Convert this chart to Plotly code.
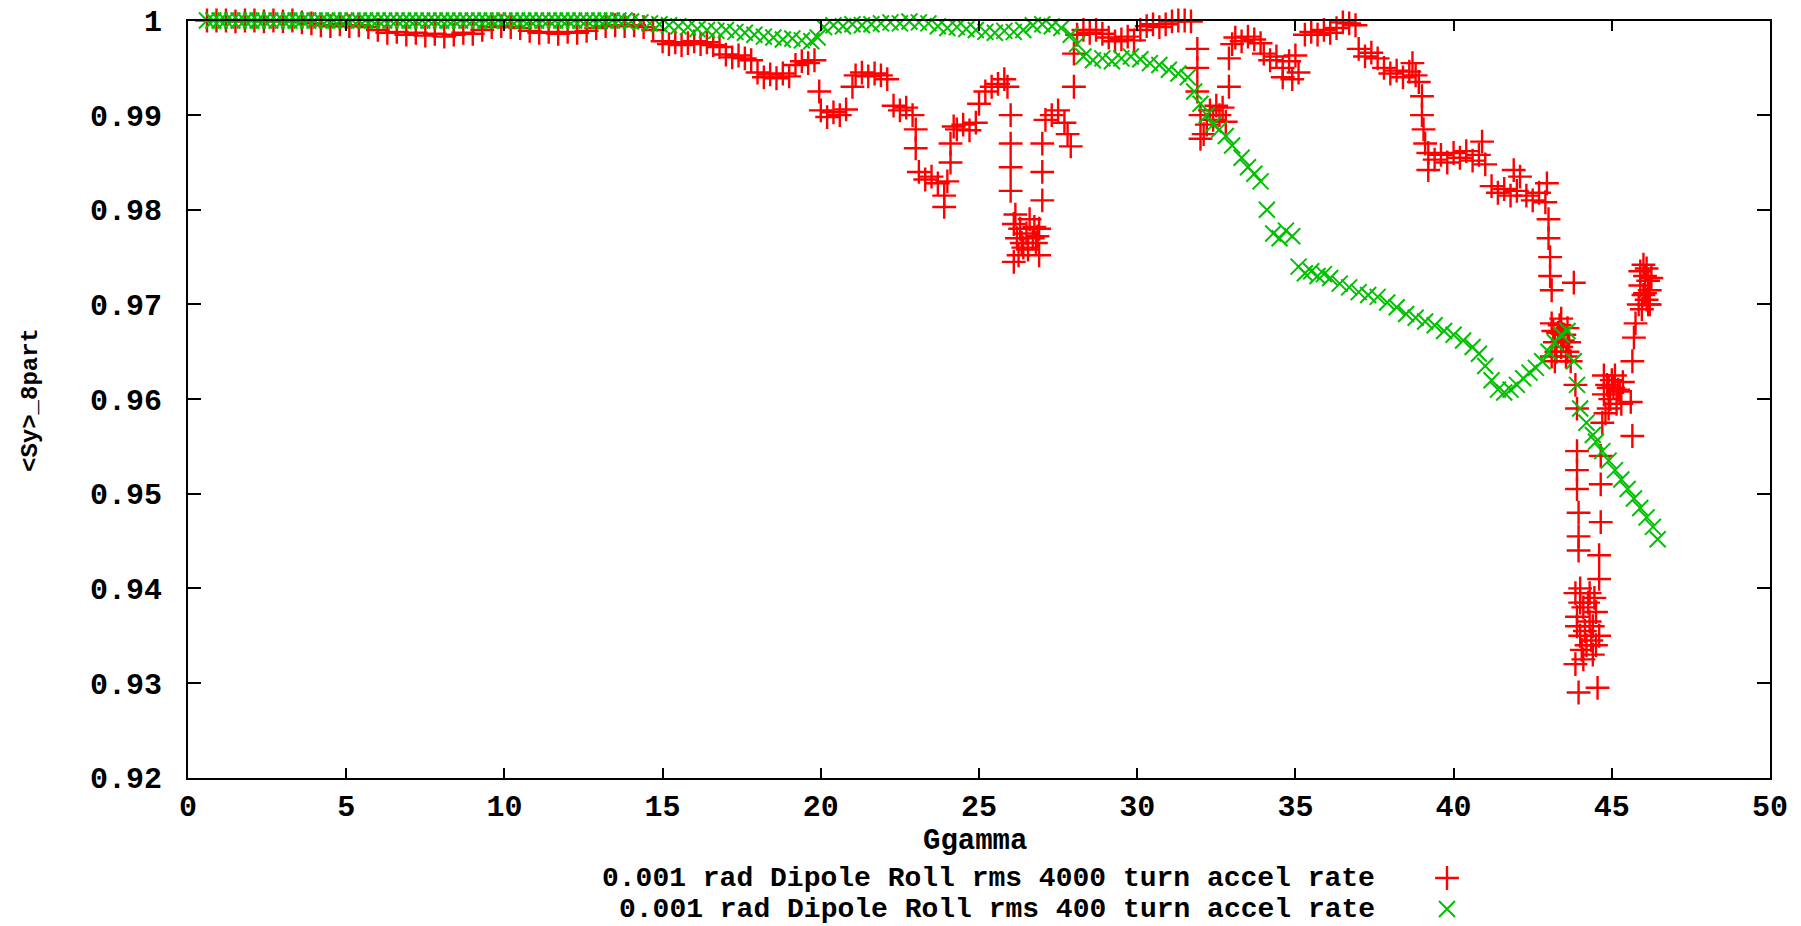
import plotly.graph_objects as go

# ---------------- data ----------------
# series 1: 0.001 rad Dipole Roll rms 4000 turn accel rate  (red '+')
red_gg = [
    0.6, 0.9, 1.2, 1.5, 1.8, 2.1, 2.4, 2.7, 3.0, 3.3, 3.6, 3.9,
    4.2, 4.5, 4.8, 5.1, 5.4, 5.7,
    6.0, 6.3, 6.6, 6.9, 7.2, 7.5, 7.8, 8.1, 8.4, 8.7, 9.0, 9.3,
    9.6, 9.9, 10.2, 10.5,
    10.8, 11.1, 11.4, 11.7, 12.0, 12.3, 12.6,
    12.9, 13.2, 13.5, 13.8, 14.1, 14.4, 14.7,
    15.0, 15.2, 15.4, 15.6, 15.8, 16.0, 16.2, 16.4, 16.6, 16.8,
    17.0, 17.2, 17.4, 17.6, 17.8,
    18.0, 18.2, 18.4, 18.6, 18.8, 19.0,
    19.2, 19.4, 19.6, 19.8,
    19.95, 20.0, 20.2, 20.4, 20.6, 20.8,
    21.0, 21.1, 21.3, 21.5, 21.7, 21.9, 22.1,
    22.3, 22.5, 22.7, 22.9, 23.0, 23.0,
    23.1, 23.3, 23.5, 23.7, 23.9, 23.9, 24.0, 24.1, 24.1, 24.2,
    24.3, 24.5, 24.7, 24.9,
    25.0, 25.2, 25.4, 25.6, 25.8, 25.9,
    26.0, 26.0, 26.0, 26.0,
    26.1, 26.2, 26.3, 26.4, 26.5, 26.6, 26.7, 26.8, 26.9, 26.1, 26.9,
    26.15, 26.35, 26.55, 26.75, 26.85, 26.25,
    27.0, 27.0, 27.0,
    27.1, 27.3, 27.5, 27.7, 27.8, 27.9,
    28.0, 28.0,
    28.1, 28.3, 28.5, 28.7, 28.9,
    29.1, 29.3, 29.5, 29.7, 29.9,
    30.1, 30.3, 30.5, 30.7, 30.9,
    31.1, 31.3, 31.5, 31.7,
    31.9, 31.9, 31.9, 32.0, 32.0,
    32.1, 32.2, 32.3, 32.4, 32.5, 32.6, 32.7, 32.8,
    32.9, 32.9, 33.0,
    33.1, 33.3, 33.5, 33.7, 33.9,
    34.0, 34.2, 34.4, 34.6, 34.8, 35.0, 35.1, 34.6, 34.9,
    35.3, 35.5, 35.7, 35.9, 36.1, 36.3,
    36.5, 36.7, 36.9,
    37.0, 37.2, 37.4, 37.6,
    37.8, 38.0, 38.2, 38.4, 38.6, 38.7, 38.8, 38.9,
    39.0, 39.0, 39.05, 39.1,
    39.2, 39.4, 39.6, 39.8, 40.0, 40.2, 40.4, 39.2,
    40.6, 40.8, 40.9, 41.0,
    41.2, 41.4, 41.6, 41.8, 41.9, 42.0, 42.1,
    42.3, 42.5, 42.7, 42.9, 42.95,
    43.0, 43.0, 43.05, 43.05, 43.1,
    43.1, 43.2, 43.3, 43.4, 43.5, 43.6, 43.6, 43.2, 43.4, 43.7, 43.1,
    43.15, 43.25, 43.35, 43.45, 43.55, 43.65,
    43.8,
    43.85, 43.9, 43.9, 43.9, 43.9, 43.95, 43.95, 43.95,
    43.85, 43.9, 44.0, 44.1, 44.2, 44.3, 44.4, 44.5, 44.6, 43.85, 44.0, 44.3, 44.4, 44.1, 43.95, 44.55,
    43.9, 44.0, 44.05, 44.15, 44.25, 44.35, 44.45, 44.5,
    44.6, 44.6, 44.65, 44.65, 44.65, 44.7,
    44.75, 44.85, 44.95, 45.05, 45.15, 45.25, 45.35, 44.8, 45.1, 44.9,
    45.0, 45.2, 45.3, 44.75, 44.9,
    45.65, 45.6, 45.65, 45.7, 45.75,
    45.85, 45.9, 46.0, 46.05, 46.1, 46.15, 46.2, 46.0, 46.1, 46.2,
    45.95, 46.05, 46.15, 46.25, 45.9,
]
red_sy = [
    1.0, 1.0, 1.0, 0.9999, 1.0, 1.0, 0.9999, 1.0, 0.9999, 1.0, 0.9998, 0.9997,
    0.9995, 0.9994, 0.9996, 0.9994, 0.9995, 0.9993,
    0.9990, 0.9987, 0.9988, 0.9985, 0.9987, 0.9984, 0.9986, 0.9983, 0.9985, 0.9987, 0.9986, 0.9990,
    0.9993, 0.9994, 0.9993, 0.9992,
    0.9989, 0.9987, 0.9988, 0.9986, 0.9988, 0.9987, 0.9989,
    0.9992, 0.9994, 0.9995, 0.9994, 0.9995, 0.9993, 0.9990,
    0.9978, 0.9975, 0.9977, 0.9974, 0.9976, 0.9978, 0.9975, 0.9977, 0.9974, 0.9972,
    0.9964, 0.9961, 0.9963, 0.9960, 0.9958,
    0.9945, 0.9940, 0.9943, 0.9939, 0.9944, 0.9941,
    0.9953, 0.9957, 0.9955, 0.9958,
    0.9925, 0.9905, 0.9898, 0.9903, 0.9900, 0.9906,
    0.9930, 0.9942, 0.9945, 0.9941, 0.9944, 0.9942, 0.9938,
    0.9910, 0.9905, 0.9908, 0.9900, 0.9885, 0.9865,
    0.9840, 0.9832, 0.9835, 0.9828, 0.9815, 0.9803, 0.9830, 0.9850, 0.9870, 0.9888,
    0.9885, 0.9890, 0.9884, 0.9892,
    0.9912, 0.9925, 0.9930, 0.9933, 0.9938, 0.9930,
    0.9900, 0.9870, 0.9845, 0.9820,
    0.9785, 0.9770, 0.9780, 0.9760, 0.9775, 0.9790, 0.9770, 0.9765, 0.9780, 0.9745, 0.9752,
    0.9795, 0.9765, 0.9758, 0.9782, 0.9772, 0.9752,
    0.9810, 0.9840, 0.9870,
    0.9895, 0.9900, 0.9905, 0.9892, 0.9880, 0.9867,
    0.9930, 0.9965,
    0.9985, 0.9990, 0.9987, 0.9990, 0.9986,
    0.9982, 0.9978, 0.9980, 0.9983, 0.9979,
    0.9990, 0.9994, 0.9996, 0.9993, 0.9996,
    0.9999, 1.0, 1.0, 0.9999,
    0.9970, 0.9950, 0.9925, 0.9900, 0.9875,
    0.9880, 0.9890, 0.9905, 0.9895, 0.9910, 0.9900, 0.9908, 0.9893,
    0.9930, 0.9960, 0.9975,
    0.9982, 0.9978, 0.9983, 0.9980, 0.9976,
    0.9965, 0.9958, 0.9962, 0.9950, 0.9957, 0.9963, 0.9945, 0.9940, 0.9938,
    0.9985, 0.9988, 0.9985, 0.9990, 0.9987, 0.9992,
    0.9998, 0.9997, 0.9995,
    0.9970, 0.9962, 0.9966, 0.9960,
    0.9950, 0.9944, 0.9947, 0.9940, 0.9946, 0.9955, 0.9942, 0.9935,
    0.9920, 0.9900, 0.9885, 0.9870,
    0.9860, 0.9853, 0.9858, 0.9850, 0.9860, 0.9855, 0.9862, 0.9842,
    0.9852, 0.9858, 0.9872, 0.9848,
    0.9825, 0.9818, 0.9822, 0.9815, 0.9842, 0.9820, 0.9835,
    0.9815, 0.9810, 0.9818, 0.9808, 0.9828,
    0.9790, 0.9770, 0.9750, 0.9730, 0.9715,
    0.9680, 0.9660, 0.9670, 0.9655, 0.9668, 0.9650, 0.9675, 0.9640, 0.9685, 0.9640, 0.9645,
    0.9672, 0.9650, 0.9678, 0.9662, 0.9645, 0.9660,
    0.9723,
    0.9615, 0.9590, 0.9545, 0.9525, 0.9505, 0.9480, 0.9455, 0.9440,
    0.9395, 0.9370, 0.9350, 0.9380, 0.9340, 0.9365, 0.9330, 0.9375, 0.9350, 0.9320, 0.9400, 0.9395, 0.9360, 0.9325, 0.9290, 0.9295,
    0.9360, 0.9385, 0.9335, 0.9355, 0.9385, 0.9345, 0.9390, 0.9340,
    0.9410, 0.9435, 0.9470, 0.9510, 0.9540, 0.9575,
    0.9605, 0.9615, 0.9600, 0.9612, 0.9595, 0.9608, 0.9618, 0.9585, 0.9625, 0.9590,
    0.9620, 0.9610, 0.9595, 0.9625, 0.9612,
    0.9561, 0.9597, 0.9640, 0.9665, 0.9680,
    0.9700, 0.9720, 0.9710, 0.9730, 0.9705, 0.9725, 0.9715, 0.9742, 0.9738, 0.9700,
    0.9695, 0.9712, 0.9700, 0.9728, 0.9735,
]

# series 2: 0.001 rad Dipole Roll rms 400 turn accel rate  (green 'x')
green_gg = [
    0.6, 0.8, 1.0, 1.2, 1.4, 1.6, 1.8, 2.0, 2.2, 2.4, 2.6, 2.8, 3.0, 3.2, 3.4,
    3.6, 3.8, 4.0, 4.2, 4.4, 4.6, 4.8, 5.0, 5.2, 5.4, 5.6, 5.8, 6.0, 6.2, 6.4,
    6.6, 6.8, 7.0, 7.2, 7.4, 7.6, 7.8, 8.0, 8.2, 8.4, 8.6, 8.8, 9.0, 9.2, 9.4,
    9.6, 9.8, 10.0, 10.2, 10.4, 10.6, 10.8, 11.0, 11.2, 11.4, 11.6, 11.8, 12.0,
    12.2, 12.4, 12.6, 12.8, 13.0, 13.2, 13.4, 13.6, 13.8,
    14.0, 14.3, 14.6, 14.9, 15.2, 15.5, 15.8,
    16.1, 16.4, 16.7, 17.0, 17.3, 17.6, 17.9,
    18.2, 18.5, 18.8, 19.1, 19.4, 19.7, 19.9,
    20.1, 20.4, 20.7, 21.0, 21.3, 21.6,
    21.9, 22.2, 22.5, 22.8, 23.1, 23.4,
    23.7, 24.0, 24.3, 24.6, 24.9,
    25.2, 25.5, 25.8, 26.1, 26.4,
    26.7, 27.0, 27.3, 27.6,
    27.9, 28.1,
    28.3, 28.6, 28.9, 29.2, 29.5,
    29.8, 30.1, 30.4, 30.7,
    31.0, 31.3, 31.6,
    31.8, 32.0, 32.2,
    32.4, 32.6, 32.8, 33.0,
    33.3, 33.5, 33.7, 33.9,
    34.1, 34.3, 34.5, 34.7, 34.9,
    35.1, 35.3, 35.5, 35.7, 35.9, 36.1,
    36.4, 36.7, 37.0, 37.3, 37.6,
    37.9, 38.2, 38.5, 38.8, 39.1, 39.4,
    39.7, 40.0, 40.3, 40.6,
    40.8, 41.0, 41.2, 41.4,
    41.6, 41.8, 42.0,
    42.2, 42.4, 42.6, 42.8,
    43.0, 43.2, 43.4, 43.6,
    43.8, 43.9, 44.0,
    44.2, 44.4, 44.5,
    44.7, 44.9, 45.1, 45.3,
    45.5, 45.7, 45.9, 46.1, 46.3, 46.45,
]
green_sy = [
    1.0, 1.0, 1.0, 1.0, 1.0, 1.0, 1.0, 1.0, 1.0, 1.0, 1.0, 1.0, 1.0, 1.0, 1.0,
    1.0, 1.0, 1.0, 1.0, 1.0, 1.0, 1.0, 1.0, 1.0, 1.0, 1.0, 1.0, 1.0, 1.0, 1.0,
    1.0, 1.0, 1.0, 1.0, 1.0, 1.0, 1.0, 1.0, 1.0, 1.0, 1.0, 1.0, 1.0, 1.0, 1.0,
    1.0, 1.0, 1.0, 1.0, 1.0, 1.0, 1.0, 1.0, 1.0, 1.0, 1.0, 1.0, 1.0,
    1.0, 1.0, 1.0, 1.0, 1.0, 1.0, 1.0, 1.0, 1.0,
    0.9999, 0.9998, 0.9997, 0.9996, 0.9995, 0.9994, 0.9993,
    0.9991, 0.9990, 0.9989, 0.9990, 0.9988, 0.9987, 0.9985,
    0.9983, 0.9982, 0.9980, 0.9981, 0.9979, 0.9978, 0.9982,
    0.9993, 0.9995, 0.9994, 0.9996, 0.9995, 0.9996,
    0.9997, 0.9998, 0.9997, 0.9999, 0.9998, 0.9997,
    0.9994, 0.9992, 0.9993, 0.9991, 0.9990,
    0.9988, 0.9987, 0.9989, 0.9988, 0.9990,
    0.9995, 0.9996, 0.9994, 0.9992,
    0.9985, 0.9975,
    0.9962, 0.9958, 0.9960, 0.9957, 0.9960,
    0.9962, 0.9959, 0.9955, 0.9953,
    0.9948, 0.9944, 0.9940,
    0.9925, 0.9912, 0.9900,
    0.9890, 0.9885, 0.9878, 0.9868,
    0.9855, 0.9845, 0.9838, 0.9830,
    0.9800, 0.9775, 0.9770, 0.9778, 0.9772,
    0.9740, 0.9733, 0.9735, 0.9730, 0.9732, 0.9728,
    0.9722, 0.9718, 0.9713, 0.9710, 0.9708,
    0.9702, 0.9697, 0.9690, 0.9686, 0.9682, 0.9678,
    0.9672, 0.9668, 0.9662, 0.9655,
    0.9648, 0.9635, 0.9620, 0.9610,
    0.9607, 0.9610, 0.9615,
    0.9622, 0.9628, 0.9633, 0.9640,
    0.9650, 0.9660, 0.9668, 0.9672,
    0.9640, 0.9615, 0.9590,
    0.9575, 0.9562, 0.9555,
    0.9545, 0.9535, 0.9525, 0.9515,
    0.9505, 0.9495, 0.9485, 0.9475, 0.9465, 0.9452,
]

x_tick_vals = [0, 5, 10, 15, 20, 25, 30, 35, 40, 45, 50]
y_tick_vals = [0.92, 0.93, 0.94, 0.95, 0.96, 0.97, 0.98, 0.99, 1.0]
y_tick_text = ["0.92", "0.93", "0.94", "0.95", "0.96", "0.97", "0.98", "0.99", "1"]

series_names = [
    "0.001 rad Dipole Roll rms 4000 turn accel rate",
    "0.001 rad Dipole Roll rms 400 turn accel rate",
]
legend_sample_x = [0.5]
legend_sample_y = [1, 0]

RED = "#ff0000"
GREEN = "#00c000"
FONT = "Liberation Mono"

# ---------------- geometry (page pixels) ----------------
W, H = 1801, 926
PL, PR, PT, PB = 188.0, 1770.0, 20.5, 777.7   # plot frame
KEY_ROWS = [878, 909]                          # key row centres


def px(x):
    return x / W


def py(y):
    return 1 - y / H


red_marker = dict(symbol="cross-thin", size=17, color=RED,
                  line=dict(color=RED, width=2.4))
green_marker = dict(symbol="x-thin", size=16, color=GREEN,
                    line=dict(color=GREEN, width=2.0))

fig = go.Figure()
fig.add_trace(go.Scatter(x=red_gg, y=red_sy, mode="markers",
                         name=series_names[0], marker=red_marker,
                         cliponaxis=False, showlegend=False))
fig.add_trace(go.Scatter(x=green_gg, y=green_sy, mode="markers",
                         name=series_names[1], marker=green_marker,
                         cliponaxis=False, showlegend=False))

# key samples (gnuplot style: text then symbol)
fig.add_trace(go.Scatter(x=legend_sample_x, y=[legend_sample_y[0]],
                         xaxis="x2", yaxis="y2", mode="markers",
                         showlegend=False, cliponaxis=False, marker=red_marker))
fig.add_trace(go.Scatter(x=legend_sample_x, y=[legend_sample_y[1]],
                         xaxis="x2", yaxis="y2", mode="markers",
                         showlegend=False, cliponaxis=False, marker=green_marker))

tickfont = dict(family=FONT, size=30, color="black", weight="bold")
axis_common = dict(
    showline=True, linewidth=2, linecolor="black", mirror="allticks",
    ticks="inside", tickwidth=2, tickcolor="black", automargin=False,
    showgrid=False, zeroline=False, tickfont=tickfont,
)

# key axis: value 1 -> KEY_ROWS[0], value 0 -> KEY_ROWS[1]
k_top, k_bot = 860, 920
k_span = (KEY_ROWS[1] - KEY_ROWS[0])
k_r0 = -(k_bot - KEY_ROWS[1]) / k_span
k_r1 = 1 + (KEY_ROWS[0] - k_top) / k_span

fig.update_layout(
    width=W, height=H,
    margin=dict(l=0, r=0, t=0, b=0, pad=0, autoexpand=False),
    paper_bgcolor="white", plot_bgcolor="white",
    showlegend=False,
    xaxis=dict(domain=[px(PL), px(PR)], range=[0, 50], tickmode="array",
               tickvals=x_tick_vals, ticklen=10, ticklabelstandoff=0,
               **axis_common),
    yaxis=dict(domain=[py(PB), py(PT)], range=[0.92, 1.0], tickmode="array",
               tickvals=y_tick_vals, ticktext=y_tick_text, ticklen=13,
               ticklabelstandoff=18, **axis_common),
    xaxis2=dict(domain=[px(1430), px(1464)], range=[0, 1], visible=False,
                anchor="y2"),
    yaxis2=dict(domain=[py(k_bot), py(k_top)], range=[k_r0, k_r1],
                visible=False, anchor="x2"),
)

fig.add_annotation(text="Ggamma", x=px(975), y=py(841), xref="paper",
                   yref="paper", showarrow=False, borderpad=0,
                   font=dict(family=FONT, size=29, color="black", weight="bold"),
                   xanchor="center", yanchor="middle")
fig.add_annotation(text="&lt;Sy&gt;_8part", x=px(30), y=py(400), xref="paper",
                   yref="paper", showarrow=False, borderpad=0,
                   font=dict(family=FONT, size=24, color="black", weight="bold"),
                   textangle=-90, xanchor="center", yanchor="middle")
key_font = dict(family=FONT, size=28, color="black", weight="bold")
for name, ypix in zip(series_names, KEY_ROWS):
    fig.add_annotation(text=name, x=px(1376), y=py(ypix), xref="paper",
                       yref="paper", showarrow=False, borderpad=0,
                       font=key_font, xanchor="right", yanchor="middle")

fig.write_html("out.html")
